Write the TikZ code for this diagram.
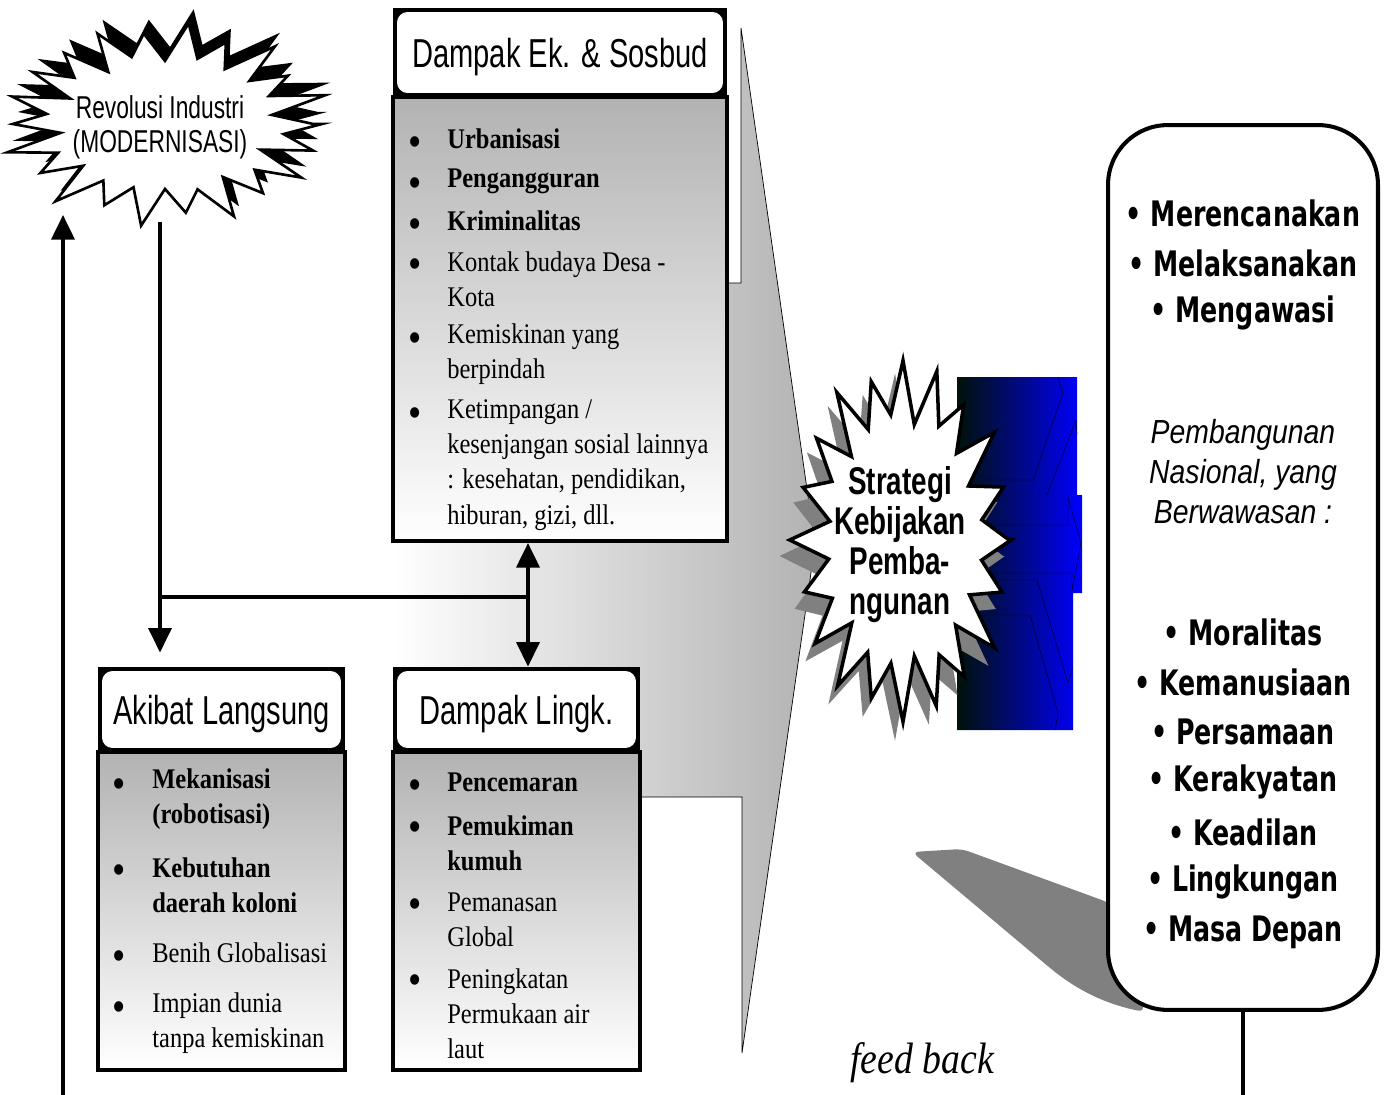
\documentclass[tikz,border=0pt]{standalone}
\usepackage{fontspec}
\setmainfont[FakeStretch=0.86]{Liberation Serif}
\newfontfamily\headfont[FakeStretch=0.72]{Liberation Sans}
\newfontfamily\notefont[FakeStretch=0.85]{Liberation Sans}
\newfontfamily\goalfont[FakeStretch=0.72]{DejaVu Sans}
\usetikzlibrary{arrows.meta, positioning}

\tikzset{
  flow/.style={line width=2.3pt, -{Triangle[width=13pt,length=14pt]}},
  twoway/.style={line width=2.3pt, {Triangle[width=13pt,length=14pt]}-{Triangle[width=13pt,length=14pt]}},
  headframe/.style={fill=black, inner sep=0pt},
  headbox/.style={fill=white, rounded corners=6pt, inner sep=0pt, text depth=0pt, font=\headfont\fontsize{23}{26}\selectfont},
  listbox/.style={draw, line width=2.3pt, top color=black!30, bottom color=white, inner sep=0pt},
  entry/.style={anchor=west, align=left, inner sep=0pt, font=\fontsize{16.2}{20}\selectfont},
  dot/.style={inner sep=0pt, yshift=-3.4pt, font=\fontsize{25}{25}\selectfont},
  goal/.style={inner sep=0pt, font=\goalfont\bfseries\fontsize{20}{24}\selectfont},
}

\begin{document}
\begin{tikzpicture}[x=0.02cm, y=-0.02cm]
\useasboundingbox (0,0) rectangle (1384,1095);

% big grey arrow behind the boxes
\shade[left color=white, right color=black!30] (393,283) -- (741,283) -- (741,28) -- (815,545) -- (742,1053) -- (742,797) -- (393,797) -- cycle;
\draw[thin] (728,283) -- (741,283) -- (741,28) -- (815,545) -- (742,1053) -- (742,797) -- (640,797);

% Revolusi Industri
\fill[black] plot[samples=45, domain=0:44, variable=\k] ({170+(157-45*mod(\k,2))*(1+0.07*sin(\k*97))*cos(\k*360/44)}, {112+(98-30*mod(\k,2))*(1+0.07*sin(\k*97))*sin(\k*360/44)}) -- cycle;
\draw[fill=white, line width=1.5pt] plot[samples=45, domain=0:44, variable=\k] ({165+(157-45*mod(\k,2))*(1+0.07*sin(\k*97))*cos(\k*360/44)}, {124+(96-30*mod(\k,2))*(1+0.07*sin(\k*97))*sin(\k*360/44)}) -- cycle;
\node[align=center, font=\headfont\fontsize{18}{19.4}\selectfont] (revtext) at (160,127) {Revolusi Industri\\(MODERNISASI)};
\coordinate (revfoot) at (160,222);

% Dampak Ek. & Sosbud
\node[headframe, minimum width=6.68cm, minimum height=1.78cm] (ekframe) at (560,52.5) {};
\node[headbox, minimum width=6.52cm, minimum height=1.62cm] (ekhead) at (ekframe) {Dampak Ek. \& Sosbud};
\node[listbox, minimum width=6.68cm, minimum height=8.88cm] (ekbody) at (560,319) {};
\node[dot] (ekdot1) at (415,141) {\textbullet};
\node[entry] (ek1) at (447,139) {\textbf{Urbanisasi}};
\node[dot] (ekdot2) at (415,182) {\textbullet};
\node[entry] (ek2) at (447,181) {\textbf{Pengangguran}};
\node[dot] (ekdot3) at (415,223) {\textbullet};
\node[entry] (ek3) at (447,221) {\textbf{Kriminalitas}};
\node[dot] (ekdot4) at (415,263) {\textbullet};
\node[entry] (ek4) at (447,279) {Kontak budaya Desa -\\Kota};
\node[dot] (ekdot5) at (415,337) {\textbullet};
\node[entry] (ek5) at (447,354) {Kemiskinan yang\\berpindah};
\node[dot] (ekdot6) at (415,412) {\textbullet};
\node[entry] (ek6) at (447,465) {Ketimpangan /\\kesenjangan sosial lainnya\\: kesehatan, pendidikan,\\hiburan, gizi, dll.};

% Akibat Langsung
\node[headframe, minimum width=4.94cm, minimum height=1.7cm] (akframe) at (221.5,709.5) {};
\node[headbox, minimum width=4.78cm, minimum height=1.54cm] (akhead) at (akframe) {Akibat Langsung};
\node[listbox, minimum width=4.94cm, minimum height=6.36cm] (akbody) at (221.5,911) {};
\node[dot] (akdot1) at (119,783) {\textbullet};
\node[entry] (ak1) at (152,799) {\textbf{Mekanisasi}\\\textbf{(robotisasi)}};
\node[dot] (akdot2) at (119,869) {\textbullet};
\node[entry] (ak2) at (152,885) {\textbf{Kebutuhan}\\\textbf{daerah koloni}};
\node[dot] (akdot3) at (119,955) {\textbullet};
\node[entry] (ak3) at (152,953) {Benih Globalisasi};
\node[dot] (akdot4) at (119,1006) {\textbullet};
\node[entry] (ak4) at (152,1023) {Impian dunia\\tanpa kemiskinan};

% Dampak Lingk.
\node[headframe, minimum width=4.94cm, minimum height=1.7cm] (lkframe) at (516.5,709.5) {};
\node[headbox, minimum width=4.78cm, minimum height=1.54cm] (lkhead) at (lkframe) {Dampak Lingk.};
\node[listbox, minimum width=4.94cm, minimum height=6.36cm] (lkbody) at (516.5,911) {};
\node[dot] (lkdot1) at (415,784) {\textbullet};
\node[entry] (lk1) at (447,782) {\textbf{Pencemaran}};
\node[dot] (lkdot2) at (415,826) {\textbullet};
\node[entry] (lk2) at (447,843) {\textbf{Pemukiman}\\\textbf{kumuh}};
\node[dot] (lkdot3) at (415,903) {\textbullet};
\node[entry] (lk3) at (447,920) {Pemanasan\\Global};
\node[dot] (lkdot4) at (415,979) {\textbullet};
\node[entry] (lk4) at (447,1014) {Peningkatan\\Permukaan air\\laut};

% connectors
\coordinate (split) at (528,597);
\draw[flow] (revfoot) -- ([yshift=8pt]revfoot |- akframe.north);
\draw[line width=2.3pt] (revfoot |- split) -- (split);
\draw[twoway] (split |- ekbody.south) -- (split |- lkframe.north);
\coordinate (fbleft) at (63,1095);
\draw[flow] (fbleft) -- ([yshift=4pt]fbleft |- revfoot);

% blue arrows
\shade[left color={rgb,255:red,0;green,18;blue,8}, right color=blue] (957,377) -- (1077,377) -- (1077,495) -- (1082,495) -- (1082,593) -- (1073,593) -- (1073,730) -- (957,730) -- cycle;
\draw[very thin] (983,480) -- (1033,480) -- (1063,393) -- (1058,377);
\draw[very thin] (1047,495) -- (1076,420) -- (1077,435);
\draw[very thin] (983,525) -- (1068,525) -- (1068,497) -- (1081,543) -- (1072,590) -- (1072,573) -- (983,573);
\draw[very thin] (983,580) -- (1037,580) -- (1068,683) -- (1073,667);
\draw[very thin] (983,615) -- (1030,615) -- (1058,713) -- (1055,730);

% Strategi Kebijakan Pembangunan
\fill[black!50] plot[samples=41, domain=0:40, variable=\k] ({895+(110-32*mod(\k,2))*(1+0.05*sin(\k*113))*cos(\k*9)}, {556+(178-52*mod(\k,2))*(1+0.05*sin(\k*113))*sin(\k*9)}) -- cycle;
\draw[fill=white, line width=2pt] plot[samples=41, domain=0:40, variable=\k] ({903+(108-32*mod(\k,2))*(1+0.05*sin(\k*113))*cos(\k*9)}, {540+(175-52*mod(\k,2))*(1+0.05*sin(\k*113))*sin(\k*9)}) -- cycle;
\node[align=center, font=\headfont\bfseries\fontsize{22}{22.8}\selectfont] (strategi) at (900,545) {Strategi\\Kebijakan\\Pemba-\\ngunan};

% goals box with its shadow tail
\fill[black!50, rounded corners=4pt] (912,852) -- (962,849) -- (1110,903) -- (1145,1012) .. controls (1105,1004) and (1078,990) .. (1050,968) -- cycle;
\node[draw, fill=white, line width=2.3pt, rounded corners=34pt, minimum width=5.4cm, minimum height=17.7cm] (goalbox) at (1243,567.5) {};
\node[goal] (g1) at (1243,213) {\textbullet\ Merencanakan};
\node[goal] (g2) at (1243,263) {\textbullet\ Melaksanakan};
\node[goal] (g3) at (1243,313) {\textbullet\ Mengawasi};
\node[align=center, inner sep=0pt, font=\notefont\itshape\fontsize{19}{22.8}\selectfont] (note) at (1243,472) {Pembangunan\\Nasional, yang\\Berwawasan :};
\node[goal] (v1) at (1243,632) {\textbullet\ Moralitas};
\node[goal] (v2) at (1243,682) {\textbullet\ Kemanusiaan};
\node[goal] (v3) at (1243,732) {\textbullet\ Persamaan};
\node[goal] (v4) at (1243,782) {\textbullet\ Kerakyatan};
\node[goal] (v5) at (1243,832) {\textbullet\ Keadilan};
\node[goal] (v6) at (1243,882) {\textbullet\ Lingkungan};
\node[goal] (v7) at (1243,932) {\textbullet\ Masa Depan};
\draw[line width=2.3pt] (goalbox.south) -- (goalbox.south |- fbleft);

\node[font=\itshape\fontsize{25}{30}\selectfont] (feedback) at (922,1063) {feed back};
\end{tikzpicture}
\end{document}
